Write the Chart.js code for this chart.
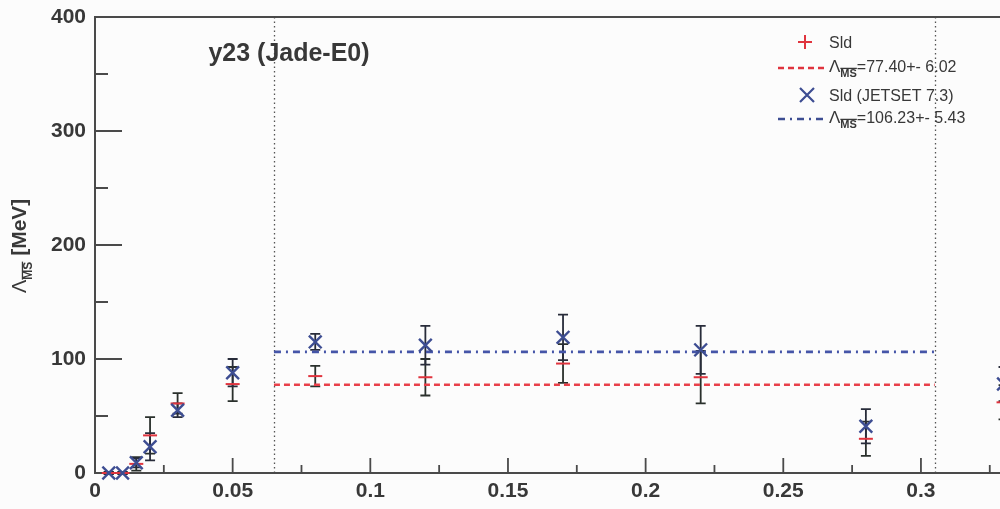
<!DOCTYPE html>
<html>
<head>
<meta charset="utf-8">
<script src="https://cdn.jsdelivr.net/npm/chart.js@4.4.1/dist/chart.umd.min.js"></script>
<style>
  html, body { margin: 0; padding: 0; background: #fcfcfc; overflow: hidden; width: 1000px; height: 509px; }
  canvas { display: block; }
</style>
</head>
<body>
<canvas id="c" width="1070" height="509"></canvas>
<script>
// y_cut values where Lambda_MSbar was extracted
const yCut = [0.005, 0.01, 0.015, 0.02, 0.03, 0.05, 0.08, 0.12, 0.17, 0.22, 0.28, 0.33];
// SLD data, standard analysis
const sldValues = [0, 0, 8, 33, 61, 78, 85, 84, 96, 84, 30, 62];
const sldErrors = [1, 1, 6, 16, 9, 15, 9, 16, 17, 23, 15, 15];
// SLD data, JETSET 7.3 hadronisation
const jetsetValues = [0, 0, 9, 23, 55, 88, 115, 112, 119, 108, 41, 78];
const jetsetErrors = [1, 1, 4, 12, 6, 12, 7, 17, 20, 21, 15, 15];
// constant fits over the y_cut window
const fitRange = [0.065, 0.305];
const sldFit = 77.40, sldFitErr = 6.02;
const jetsetFit = 106.23, jetsetFitErr = 5.43;
// axis ticks
const xMajorTicks = [0, 0.05, 0.1, 0.15, 0.2, 0.25, 0.3, 0.35];
const xTickLabels = ['0', '0.05', '0.1', '0.15', '0.2', '0.25', '0.3'];
const xMinorTicks = [0.025, 0.075, 0.125, 0.175, 0.225, 0.275, 0.325];
const yMajorTicks = [0, 100, 200, 300, 400];
const yTickLabels = ['0', '100', '200', '300', '400'];
const yMinorTicks = [50, 150, 250, 350];

const RED = '#e0343e';
const BLUE = '#3d4d92';
const AXIS = '#4a4a4a';
const TEXT = '#383838';
const FONT = '"Liberation Sans", Arial, Helvetica, sans-serif';

const pts = (vals) => yCut.map((x, i) => ({ x: x, y: vals[i] }));
const fitLine = (v) => fitRange.map((x) => ({ x: x, y: v }));

// inward ROOT-style frame, ticks and the fit-window markers
const framePlugin = {
  id: 'frame',
  beforeDatasetsDraw(chart) {
    const { ctx, chartArea: a, scales: { x, y } } = chart;
    ctx.save();
    // fit window boundaries
    ctx.strokeStyle = '#555';
    ctx.lineWidth = 1.3;
    ctx.setLineDash([1.5, 3]);
    fitRange.forEach((v) => {
      const px = Math.round(x.getPixelForValue(v)) + 0.5;
      ctx.beginPath(); ctx.moveTo(px, a.top); ctx.lineTo(px, a.bottom); ctx.stroke();
    });
    ctx.setLineDash([]);
    ctx.strokeStyle = AXIS;
    ctx.lineWidth = 2;
    ctx.beginPath();
    ctx.moveTo(a.right, a.top); ctx.lineTo(a.left, a.top);
    ctx.lineTo(a.left, a.bottom); ctx.lineTo(a.right, a.bottom);
    ctx.stroke();
    ctx.lineWidth = 1.8;
    ctx.beginPath();
    xMajorTicks.forEach((v) => { const p = x.getPixelForValue(v); ctx.moveTo(p, a.bottom); ctx.lineTo(p, a.bottom - 15); });
    xMinorTicks.forEach((v) => { const p = x.getPixelForValue(v); ctx.moveTo(p, a.bottom); ctx.lineTo(p, a.bottom - 8); });
    yMajorTicks.forEach((v) => { const p = y.getPixelForValue(v); ctx.moveTo(a.left, p); ctx.lineTo(a.left + 27, p); });
    yMinorTicks.forEach((v) => { const p = y.getPixelForValue(v); ctx.moveTo(a.left, p); ctx.lineTo(a.left + 13, p); });
    ctx.stroke();
    // error bars of both measurements
    const bars = (vals, errs, color, cap) => {
      ctx.strokeStyle = color;
      ctx.lineWidth = 1.8;
      ctx.beginPath();
      yCut.forEach((xv, i) => {
        const px = x.getPixelForValue(xv);
        const lo = y.getPixelForValue(vals[i] - errs[i]);
        const hi = y.getPixelForValue(vals[i] + errs[i]);
        ctx.moveTo(px, lo); ctx.lineTo(px, hi);
        ctx.moveTo(px - cap, lo); ctx.lineTo(px + cap, lo);
        ctx.moveTo(px - cap, hi); ctx.lineTo(px + cap, hi);
      });
      ctx.stroke();
    };
    bars(sldValues, sldErrors, '#2a302c', 5);
    bars(jetsetValues, jetsetErrors, '#282c3a', 5);
    ctx.restore();
  }
};

// draws Lambda with an overlined MS subscript followed by the rest of the text
function lambdaText(ctx, x, baseline, rest, size, restFont) {
  ctx.font = size + 'px ' + FONT;
  ctx.fillText('\u039B', x, baseline);
  x += ctx.measureText('\u039B').width;
  const sub = Math.round(size * 0.62);
  ctx.font = 'bold ' + sub + 'px ' + FONT;
  const w = ctx.measureText('MS').width;
  const sb = baseline + size * 0.3;
  ctx.fillText('MS', x, sb);
  ctx.fillRect(x, sb - sub * 0.85, w, 1.3);
  x += w;
  ctx.font = restFont;
  ctx.fillText(rest, x, baseline);
}

const annotPlugin = {
  id: 'annot',
  afterDraw(chart) {
    const { ctx } = chart;
    ctx.save();
    ctx.fillStyle = TEXT;
    ctx.textBaseline = 'alphabetic';
    // title
    ctx.font = 'bold 25px ' + FONT;
    ctx.textAlign = 'center';
    ctx.fillText('y23 (Jade-E0)', 289, 61);
    ctx.textAlign = 'left';

    // y-axis title
    ctx.save();
    ctx.translate(26, 293);
    ctx.rotate(-Math.PI / 2);
    lambdaText(ctx, 0, 0, ' [MeV]', 20, 'bold 21px ' + FONT);
    ctx.restore();

    // legend
    const lx0 = 778, lx1 = 824, tx = 829;
    ctx.lineWidth = 2;
    ctx.strokeStyle = RED;
    ctx.beginPath(); ctx.moveTo(798, 42); ctx.lineTo(812, 42); ctx.moveTo(805, 35); ctx.lineTo(805, 49); ctx.stroke();
    ctx.font = '16px ' + FONT;
    ctx.fillText('Sld', tx, 48);
    ctx.lineWidth = 2.5;
    ctx.setLineDash([6, 4]);
    ctx.beginPath(); ctx.moveTo(lx0, 68); ctx.lineTo(lx1, 68); ctx.stroke();
    ctx.setLineDash([]);
    lambdaText(ctx, tx, 72, '=' + sldFit.toFixed(2) + '+- ' + sldFitErr.toFixed(2), 17, '16px ' + FONT);

    ctx.strokeStyle = BLUE;
    ctx.lineWidth = 2.2;
    ctx.beginPath(); ctx.moveTo(800, 88); ctx.lineTo(814, 102); ctx.moveTo(814, 88); ctx.lineTo(800, 102); ctx.stroke();
    ctx.font = '16px ' + FONT;
    ctx.fillText('Sld (JETSET 7.3)', tx, 101);
    ctx.lineWidth = 2.5;
    ctx.setLineDash([7, 5, 2, 5]);
    ctx.beginPath(); ctx.moveTo(lx0, 119); ctx.lineTo(lx1, 119); ctx.stroke();
    ctx.setLineDash([]);
    lambdaText(ctx, tx, 123, '=' + jetsetFit.toFixed(2) + '+- ' + jetsetFitErr.toFixed(2), 17, '16px ' + FONT);
    ctx.restore();
  }
};

new Chart(document.getElementById('c'), {
  type: 'scatter',
  data: {
    datasets: [
      { label: 'Sld (JETSET 7.3)', data: pts(jetsetValues), pointStyle: 'crossRot', pointRadius: 9,
        borderColor: BLUE, backgroundColor: BLUE, pointBorderWidth: 2.4, showLine: false, clip: false },
      { label: 'Sld', data: pts(sldValues), pointStyle: 'line', pointRadius: 7,
        borderColor: RED, backgroundColor: RED, pointBorderWidth: 2, showLine: false, clip: false },
      { type: 'line', label: 'fit JETSET', data: fitLine(jetsetFit), borderColor: '#4555a8', borderWidth: 2.6,
        borderDash: [7, 5, 2, 5], pointRadius: 0, fill: false },
      { type: 'line', label: 'fit Sld', data: fitLine(sldFit), borderColor: '#e8404a', borderWidth: 2.6,
        borderDash: [6, 4], pointRadius: 0, fill: false }
    ]
  },
  options: {
    responsive: false,
    animation: false,
    devicePixelRatio: 1,
    layout: { padding: { top: 17, right: 2, left: 0, bottom: 0 } },
    plugins: { legend: { display: false }, tooltip: { enabled: false } },
    scales: {
      x: {
        type: 'linear', min: 0, max: 0.35,
        afterBuildTicks: (s) => { s.ticks = xTickLabels.map((_, i) => ({ value: xMajorTicks[i] })); },
        afterFit: (s) => { s.height = 36; s.paddingLeft = 0; s.paddingRight = 0; s.paddingTop = 0; s.paddingBottom = 0; },
        grid: { display: false, drawTicks: false },
        border: { display: false },
        ticks: { callback: (v, i) => xTickLabels[i], autoSkip: false, maxRotation: 0, padding: 6,
                 color: TEXT, font: { family: FONT, size: 21, weight: 'bold' } }
      },
      y: {
        type: 'linear', min: 0, max: 400,
        afterBuildTicks: (s) => { s.ticks = yMajorTicks.map((v) => ({ value: v })); },
        afterFit: (s) => { s.width = 95; s.paddingLeft = 0; s.paddingRight = 0; s.paddingTop = 0; s.paddingBottom = 0; },
        grid: { display: false, drawTicks: false },
        border: { display: false },
        ticks: { callback: (v, i) => yTickLabels[i], padding: 9,
                 color: TEXT, font: { family: FONT, size: 21, weight: 'bold' } }
      }
    }
  },
  plugins: [framePlugin, annotPlugin]
});
</script>
</body>
</html>
